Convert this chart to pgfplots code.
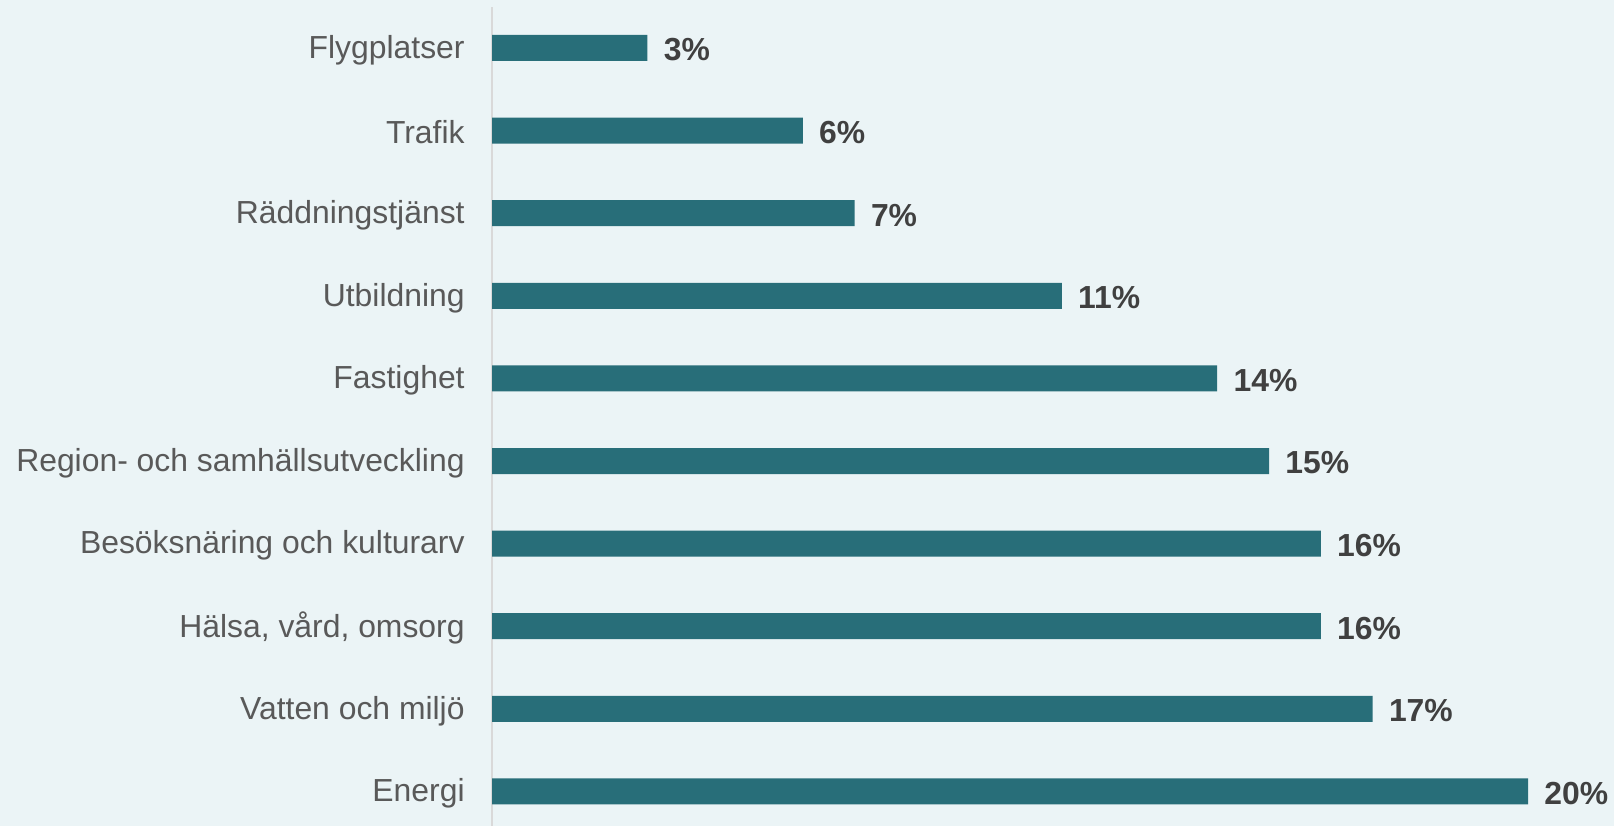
\documentclass[border=0pt]{standalone}
\usepackage{fontspec}
\setmainfont{Liberation Sans}
\usepackage{pgfplots}
\pgfplotsset{compat=1.18}
\definecolor{bg}{HTML}{EBF4F6}
\definecolor{bar}{HTML}{286E79}
\definecolor{lab}{HTML}{595959}
\definecolor{val}{HTML}{404040}
\definecolor{axl}{HTML}{D9D9D9}
\begin{document}
\begin{tikzpicture}
\useasboundingbox (0,0) rectangle (807bp,413bp);
\fill[bg] (0,0) rectangle (807bp,413bp);
\begin{axis}[
  at={(246bp,0bp)}, anchor=south west,
  width=561bp, height=409.5bp, scale only axis,
  xbar, bar width=13bp,
  xmin=0, xmax=21.66,
  ymin=-0.418, ymax=9.496,
  axis x line=none,
  axis y line=left,
  y axis line style={draw=axl, line width=1bp, -},
  ytick={0,...,9},
  major tick length=0pt,
  yticklabels={Energi, Vatten och miljö, {Hälsa, vård, omsorg}, Besöksnäring och kulturarv, Region- och samhällsutveckling, Fastighet, Utbildning, Räddningstjänst, Trafik, Flygplatser},
  yticklabel style={font=\fontsize{16}{19}\selectfont, text=lab, anchor=east, inner sep=0pt, xshift=-13.5bp, yshift=-1bp},
  nodes near coords={\pgfmathprintnumber[assume math mode=true]{\pgfplotspointmeta}\%},
  nodes near coords style={font=\fontsize{16}{19}\selectfont\bfseries, text=val, anchor=west, inner sep=0pt, xshift=8bp, yshift=-1bp},
  point meta=explicit,
  clip=false,
]
\addplot[fill=bar, draw=none] coordinates {
  (20,0) [20]
  (17,1) [17]
  (16,2) [16]
  (16,3) [16]
  (15,4) [15]
  (14,5) [14]
  (11,6) [11]
  (7,7) [7]
  (6,8) [6]
  (3,9) [3]
};
\end{axis}
\end{tikzpicture}
\end{document}
